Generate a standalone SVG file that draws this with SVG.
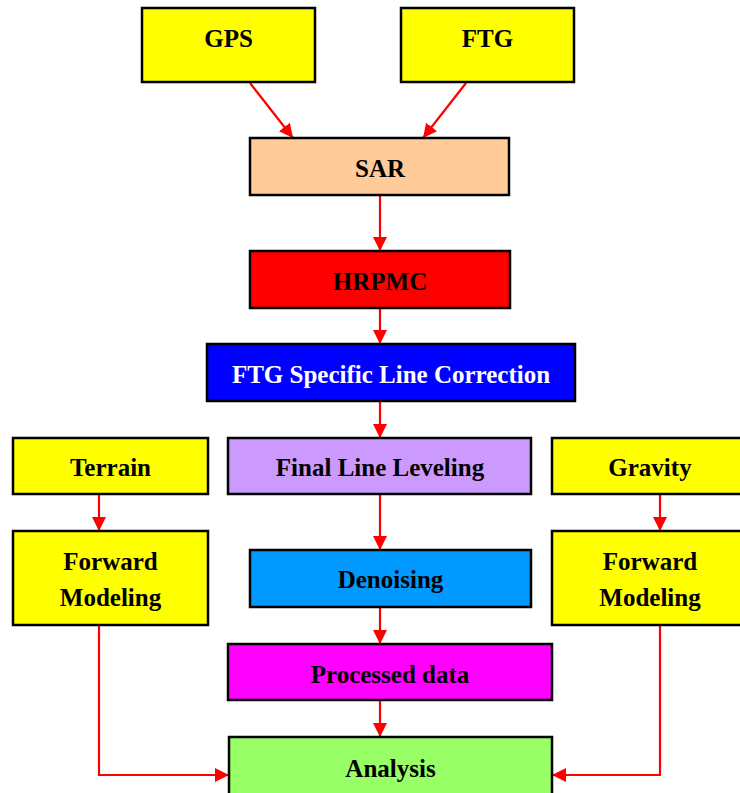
<svg xmlns="http://www.w3.org/2000/svg" width="740" height="793" viewBox="0 0 740 793">
<style>
.box{stroke:#000;stroke-width:2.5}
.t{font-family:"Liberation Serif","Times New Roman",serif;font-weight:bold;font-size:25px;text-anchor:middle;fill:#000}
.w{fill:#fff}
.c{fill:none;stroke:#ff0000;stroke-width:2.2}
</style>
<defs>
<marker id="ah" markerUnits="userSpaceOnUse" markerWidth="14" markerHeight="14" viewBox="0 0 14 14" refX="14" refY="7" orient="auto">
<path d="M0,0 L14,7 L0,14 Z" fill="#ff0000"/>
</marker>
</defs>
<rect width="740" height="793" fill="#fff"/>
<g id="connectors">
<line class="c" x1="250" y1="83" x2="293" y2="138" marker-end="url(#ah)"/>
<line class="c" x1="466" y1="83" x2="423" y2="138" marker-end="url(#ah)"/>
<line class="c" x1="380" y1="195" x2="380" y2="251" marker-end="url(#ah)"/>
<line class="c" x1="380" y1="308" x2="380" y2="344" marker-end="url(#ah)"/>
<line class="c" x1="380" y1="401" x2="380" y2="438" marker-end="url(#ah)"/>
<line class="c" x1="380" y1="494" x2="380" y2="550" marker-end="url(#ah)"/>
<line class="c" x1="380" y1="607" x2="380" y2="644" marker-end="url(#ah)"/>
<line class="c" x1="380" y1="700" x2="380" y2="737" marker-end="url(#ah)"/>
<line class="c" x1="99" y1="494" x2="99" y2="531" marker-end="url(#ah)"/>
<line class="c" x1="660" y1="494" x2="660" y2="531" marker-end="url(#ah)"/>
<polyline class="c" points="99,625 99,775 229,775" marker-end="url(#ah)"/>
<polyline class="c" points="660,625 660,775 552,775" marker-end="url(#ah)"/>
</g>
<g id="gps"><rect class="box" x="142" y="8" width="173" height="74" fill="#ffff00"/><text class="t" x="228.5" y="46.5">GPS</text></g>
<g id="ftg"><rect class="box" x="401" y="8" width="173" height="74" fill="#ffff00"/><text class="t" x="487.5" y="46.5">FTG</text></g>
<g id="sar"><rect class="box" x="250" y="138" width="259" height="57" fill="#ffcc99"/><text class="t" x="380" y="177">SAR</text></g>
<g id="hrpmc"><rect class="box" x="250" y="251" width="260" height="57" fill="#ff0000"/><text class="t" x="380" y="290">HRPMC</text></g>
<g id="ftg-specific"><rect class="box" x="207" y="344" width="368" height="57" fill="#0000ff"/><text class="t w" x="391" y="383">FTG Specific Line Correction</text></g>
<g id="terrain"><rect class="box" x="13" y="438" width="195" height="56" fill="#ffff00"/><text class="t" x="110.5" y="476">Terrain</text></g>
<g id="final-line"><rect class="box" x="228" y="438" width="303" height="56" fill="#cc99ff"/><text class="t" x="380" y="476">Final Line Leveling</text></g>
<g id="gravity"><rect class="box" x="552" y="438" width="196" height="56" fill="#ffff00"/><text class="t" x="650" y="476">Gravity</text></g>
<g id="fm-left"><rect class="box" x="13" y="531" width="195" height="94" fill="#ffff00"/><text class="t" x="110.5" y="570">Forward</text><text class="t" x="110.5" y="606">Modeling</text></g>
<g id="denoising"><rect class="box" x="250" y="550" width="281" height="57" fill="#0099ff"/><text class="t" x="390.5" y="588">Denoising</text></g>
<g id="fm-right"><rect class="box" x="552" y="531" width="196" height="94" fill="#ffff00"/><text class="t" x="650" y="570">Forward</text><text class="t" x="650" y="606">Modeling</text></g>
<g id="processed"><rect class="box" x="228" y="644" width="324" height="56" fill="#ff00ff"/><text class="t" x="390" y="683">Processed data</text></g>
<g id="analysis"><rect class="box" x="229" y="737" width="323" height="70" fill="#99ff66"/><text class="t" x="390.5" y="777">Analysis</text></g>
</svg>
